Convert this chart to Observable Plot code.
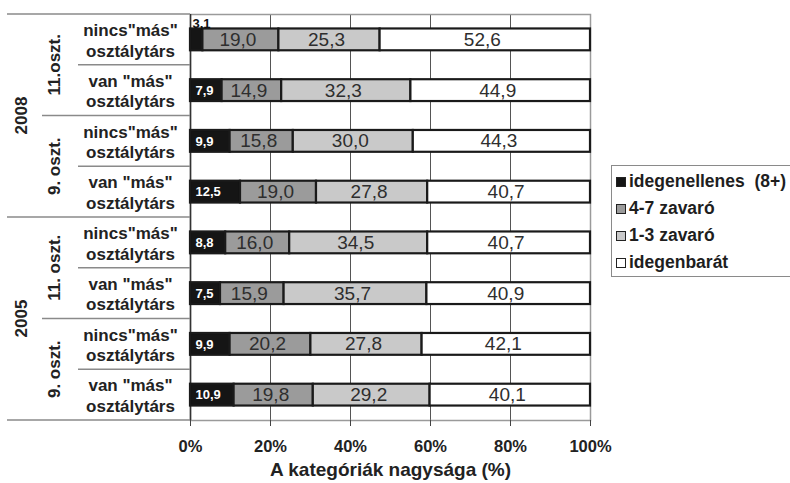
<!DOCTYPE html>
<html>
<head>
<meta charset="utf-8">
<script src="https://cdn.jsdelivr.net/npm/d3@7"></script>
<script src="https://cdn.jsdelivr.net/npm/@observablehq/plot@0.6"></script>
<style>
  html, body { margin: 0; padding: 0; background: #fff; overflow: hidden; }
  body { width: 790px; height: 483px; position: relative; font-family: "Liberation Sans", Arial, sans-serif; }
  #chart { position: absolute; left: 0; top: 0; }
  #chart svg [aria-label="x-axis tick label"] { font-weight: bold; font-size: 16.5px; fill: #222; }
  #legend { position: absolute; left: 611px; top: 165px; width: 200px; height: 112px; border: 1px solid #8a8a8a; box-sizing: border-box; padding-top: 2px; }
  .item { height: 27px; line-height: 27px; font-weight: bold; font-size: 17.5px; color: #1e1e1e; white-space: pre; display: flex; align-items: center; }
  .sw { width: 8px; height: 8px; border: 1.5px solid #222; margin-left: 4px; margin-right: 3px; flex: none; }
</style>
</head>
<body>
<div id="chart"></div>
<div id="legend"></div>
<script>
// ---- data ----
const years = ["2008", "2005"];
const grades = ["11.oszt.", "9. oszt.", "11. oszt.", "9. oszt."];
const rowLabels = [
  'nincs"más"\nosztálytárs', 'van "más"\nosztálytárs',
  'nincs"más"\nosztálytárs', 'van "más"\nosztálytárs',
  'nincs"más"\nosztálytárs', 'van "más"\nosztálytárs',
  'nincs"más"\nosztálytárs', 'van "más"\nosztálytárs'
];
const categories = ["idegenellenes  (8+)", "4-7 zavaró", "1-3 zavaró", "idegenbarát"];
const antiForeign  = [3.1, 7.9, 9.9, 12.5, 8.8, 7.5, 9.9, 10.9];
const disturb47    = [19.0, 14.9, 15.8, 19.0, 16.0, 15.9, 20.2, 19.8];
const disturb13    = [25.3, 32.3, 30.0, 27.8, 34.5, 35.7, 27.8, 29.2];
const friendly     = [52.6, 44.9, 44.3, 40.7, 40.7, 40.9, 42.1, 40.1];
const xTicks = [0, 20, 40, 60, 80, 100];
const axisTitle = "A kategóriák nagysága (%)";
const colors = ["#151515", "#9b9b9b", "#c9c9c9", "#ffffff"];

// ---- table ----
const series = [antiForeign, disturb47, disturb13, friendly];
const rowIdx = d3.range(rowLabels.length);
const table = [];
rowIdx.forEach(i => series.forEach((s, k) => table.push({row: i, cat: categories[k], value: s[i]})));
const fmt = v => v.toFixed(1).replace(".", ",");
const firstSeg = table.filter(d => d.cat === categories[0]);

const chart = Plot.plot({
  width: 790, height: 483,
  marginLeft: 190, marginRight: 200, marginTop: 14, marginBottom: 63,
  style: {fontFamily: "'Liberation Sans', Arial, sans-serif", background: "transparent"},
  x: {domain: [0, 100], axis: null},
  y: {type: "band", domain: rowIdx, paddingInner: 0.57, paddingOuter: 0.285, round: false, axis: null},
  color: {domain: categories, range: colors},
  marks: [
    Plot.gridX(xTicks.slice(1, -1), {stroke: "#555", strokeOpacity: 1, strokeWidth: 1}),
    Plot.frame({stroke: "#9a9a9a", strokeWidth: 1.5}),
    Plot.axisX(xTicks, {tickFormat: d => d + "%", tickSize: 6, tickPadding: 14, stroke: "#444", label: null}),
    Plot.ruleX([0], {stroke: "#333", strokeWidth: 1.5}),
    Plot.barX(table, {x: "value", y: "row", fill: "cat", stroke: "#1a1a1a", strokeWidth: 2.2}),
    Plot.text(table, Plot.stackX({
      x: "value", y: "row", z: "cat",
      text: d => d.cat === categories[0] ? null : fmt(d.value),
      fill: "#2e2e2e", fontSize: 19, dx: -3
    })),
    Plot.text(firstSeg.filter(d => d.value >= 5), {
      x: () => 0, y: "row", text: d => fmt(d.value),
      textAnchor: "start", dx: 5, fill: "white", fontWeight: "bold", fontSize: 13
    }),
    Plot.text(firstSeg.filter(d => d.value < 5), {
      x: () => 0, y: "row", text: d => fmt(d.value),
      textAnchor: "start", dx: 2, dy: -16, fill: "#111", fontWeight: "bold", fontSize: 13
    }),
    Plot.text(rowIdx, {
      y: i => i, text: i => rowLabels[i], frameAnchor: "left", dx: -60,
      textAnchor: "middle", fontSize: 17, fontWeight: "bold", fill: "#222", lineHeight: 1.2
    }),
    Plot.text([axisTitle], {frameAnchor: "bottom", dy: 55, fontSize: 19, fontWeight: "bold", fill: "#222"})
  ]
});
document.getElementById("chart").appendChild(chart);

// ---- left label panel built from the y scale ----
const ys = chart.scale("y");
const rowTop = i => ys.apply(i) - (ys.step - ys.bandwidth) / 2;
const rowBottom = i => rowTop(i) + ys.step;
const svg = d3.select(chart);
const g = svg.append("g").attr("stroke", "#8a8a8a").attr("stroke-width", 1.5);
rowIdx.forEach(i => {
  let x1 = 78;
  if (i % 4 === 0) x1 = 7;
  else if (i % 2 === 0) x1 = 42;
  g.append("line").attr("x1", x1).attr("x2", 190).attr("y1", rowTop(i)).attr("y2", rowTop(i));
});
g.append("line").attr("x1", 7).attr("x2", 190).attr("y1", rowBottom(7)).attr("y2", rowBottom(7));

const lab = svg.append("g").attr("font-family", "'Liberation Sans', Arial, sans-serif")
  .attr("font-weight", "bold").attr("font-size", 17).attr("fill", "#222").attr("text-anchor", "middle");
years.forEach((yr, k) => {
  const cy = (rowTop(k * 4) + rowBottom(k * 4 + 3)) / 2;
  lab.append("text").attr("transform", `translate(21,${cy}) rotate(-90)`).attr("dy", "0.35em").text(yr);
});
grades.forEach((gr, k) => {
  const cy = (rowTop(k * 2) + rowBottom(k * 2 + 1)) / 2;
  lab.append("text").attr("transform", `translate(54,${cy}) rotate(-90)`).attr("dy", "0.35em").text(gr);
});

// ---- legend ----
const legend = d3.select("#legend");
categories.forEach((c, k) => {
  const it = legend.append("div").attr("class", "item");
  it.append("span").attr("class", "sw").style("background", colors[k]);
  it.append("span").text(c);
});
</script>
</body>
</html>
